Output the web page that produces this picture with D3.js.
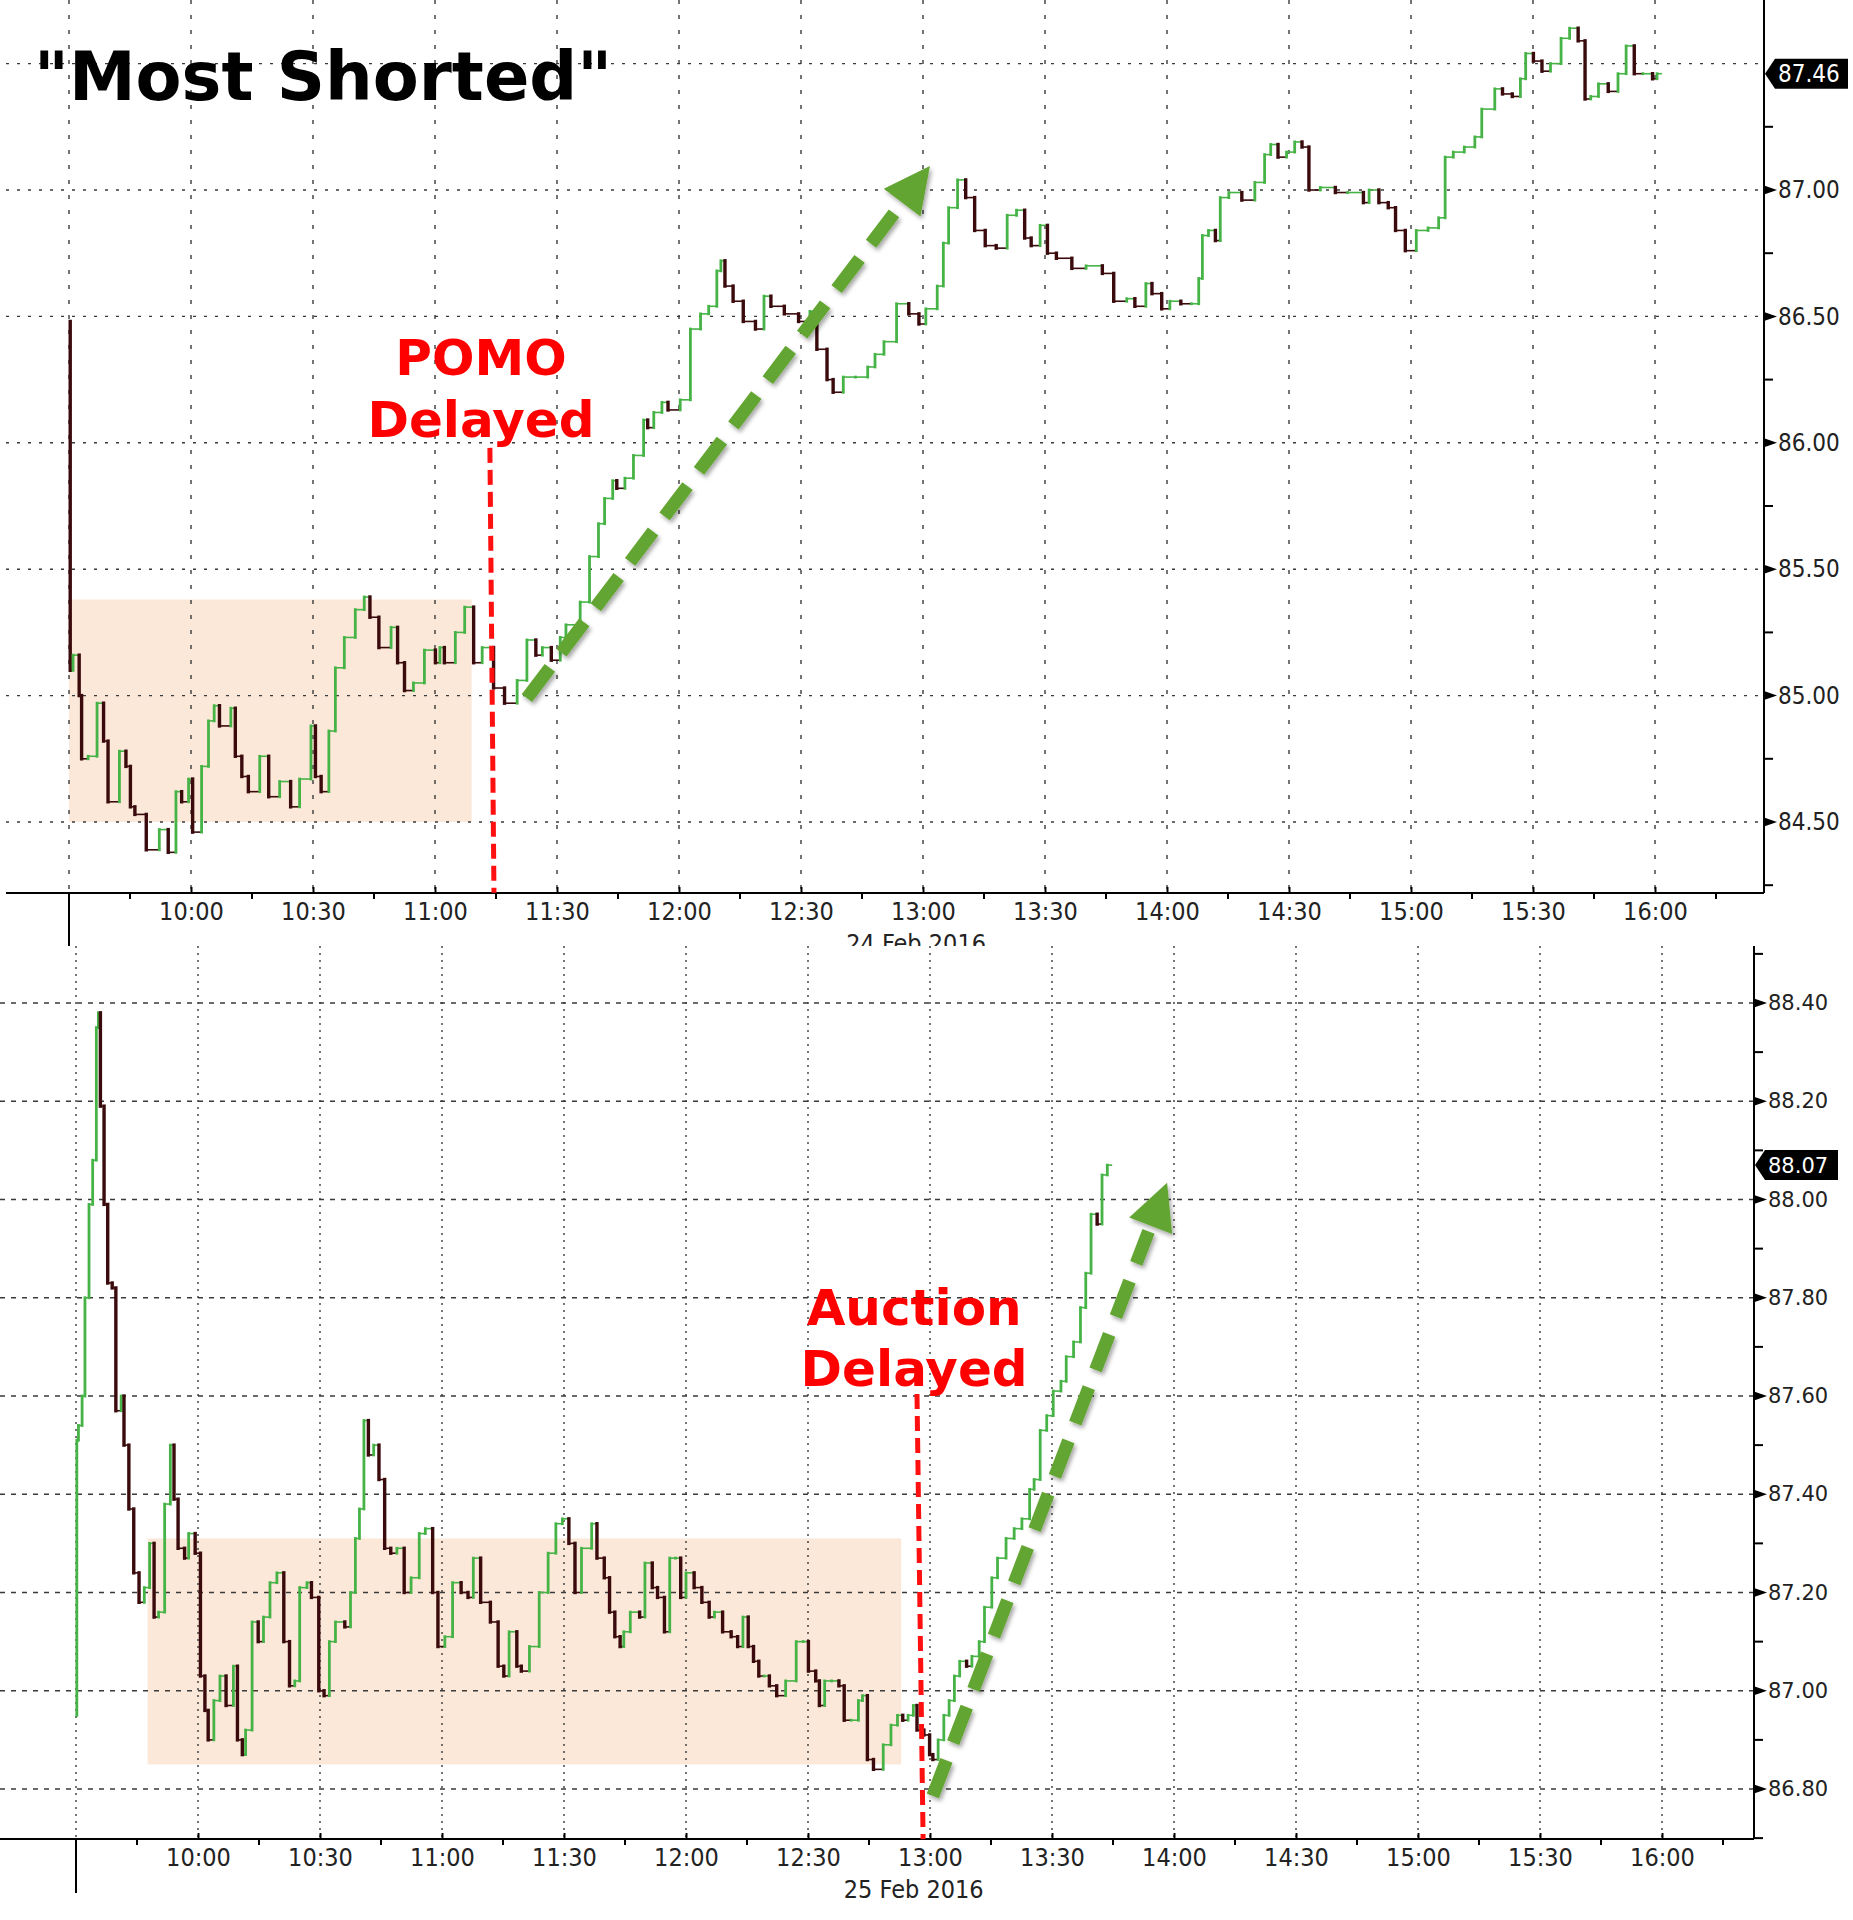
<!DOCTYPE html>
<html>
<head>
<meta charset="UTF-8">
<title>"Most Shorted"</title>
<style>
  body { margin: 0; background: #fff; }
  svg { display: block; }
  .cond { font-family: "DejaVu Sans Condensed", "Liberation Sans Narrow", "DejaVu Sans", sans-serif; font-stretch: condensed; }
  .wide { font-family: "DejaVu Sans", Verdana, sans-serif; }
</style>
</head>
<body>
<svg width="1853" height="1920"></svg>
<script src="https://d3js.org/d3.v7.min.js"></script>
<script>

    // ---- data: minutes after 9:30 and bar close prices ----

    // 24 Feb 2016
    var topMinutes = [
        0, 0.3, 1, 2.5, 3.1, 4.7, 6.9, 8.5, 9.6, 12.4,
        14, 15.1, 16.2, 19, 22.2, 24.4, 26.3, 27.7, 29.4, 30.4,
        32.6, 34.3, 35.7, 37, 39.8, 40.9, 42.5, 44.1, 46.9, 49.1,
        51.8, 54.5, 56.7, 59.5, 60.6, 62, 63.9, 65.5, 67.7, 70.4,
        72.6, 74, 76.2, 79.2, 80.8, 82.5, 84.7, 87.4, 90.1, 91.2,
        92.3, 95, 97.3, 99.5, 101.6, 104.4, 107.1, 110.2, 112.6, 114.8,
        116.4, 118.6, 120.8, 122.2, 125.7, 128, 130.2, 131.7, 133.7, 134.7,
        136.7, 138.8, 141.3, 142.3, 143.8, 145.8, 147.3, 150.3, 152.8, 155.3,
        157.3, 159.3, 160.3, 161.3, 163.3, 165.8, 168.8, 170.9, 172.6, 175.9,
        179.4, 182.2, 183.9, 186.4, 187.9, 190.4, 193.4, 196.4, 198.2, 200.4,
        203.5, 206.5, 209, 210.7, 213.5, 215, 216.3, 218.5, 220.5, 222.7,
        225.3, 228, 230.7, 233, 235, 236.6, 238.8, 240.6, 242.8, 246.6,
        250.1, 254.1, 256.9, 260.1, 262.1, 264.8, 266.3, 268.7, 270.7, 273.4,
        276, 277.8, 278.7, 280.2, 281.9, 283.1, 285.2, 288.4, 291.6, 294,
        295.5, 297.3, 299.4, 301.4, 303.2, 304.9, 307.7, 311.4, 314.4, 318.3,
        319.7, 322.1, 324.4, 326.2, 328.6, 331.3, 334.2, 336.8, 338.4, 340.4,
        343.1, 345.7, 347.4, 350.6, 352.5, 354.9, 356.9, 358.2, 360.1, 362.2,
        364.3, 366.9, 369, 371.1, 372.8, 374.2, 376.1, 378.5, 380.9, 382.9,
        384.9, 387, 389.4, 390.5
    ];
    var topClose = [
        86.48, 85.10, 85.16, 85.00, 84.75, 84.76, 84.97, 84.82, 84.58, 84.78,
        84.72, 84.56, 84.53, 84.39, 84.47, 84.38, 84.62, 84.58, 84.67, 84.46,
        84.72, 84.90, 84.96, 84.88, 84.95, 84.76, 84.68, 84.62, 84.76, 84.60,
        84.66, 84.56, 84.67, 84.88, 84.68, 84.62, 84.86, 85.11, 85.23, 85.34,
        85.39, 85.31, 85.19, 85.27, 85.13, 85.02, 85.05, 85.18, 85.13, 85.19,
        85.13, 85.25, 85.35, 85.13, 85.19, 85.03, 84.97, 85.06, 85.22, 85.16,
        85.19, 85.14, 85.23, 85.28, 85.37, 85.55, 85.68, 85.78, 85.85, 85.82,
        85.86, 85.95, 86.09, 86.06, 86.12, 86.16, 86.13, 86.17, 86.45, 86.51,
        86.54, 86.68, 86.72, 86.62, 86.56, 86.48, 86.45, 86.58, 86.54, 86.51,
        86.48, 86.52, 86.37, 86.25, 86.20, 86.26, 86.26, 86.30, 86.35, 86.40,
        86.55, 86.51, 86.47, 86.53, 86.62, 86.79, 86.93, 87.04, 86.97, 86.84,
        86.78, 86.77, 86.90, 86.92, 86.81, 86.78, 86.86, 86.75, 86.73, 86.69,
        86.70, 86.67, 86.56, 86.57, 86.54, 86.63, 86.59, 86.53, 86.56, 86.55,
        86.55, 86.65, 86.82, 86.84, 86.80, 86.97, 86.99, 86.96, 87.03, 87.14,
        87.18, 87.13, 87.15, 87.19, 87.17, 87.00, 87.01, 86.99, 86.99, 86.95,
        87.00, 86.95, 86.93, 86.84, 86.76, 86.84, 86.85, 86.89, 87.13, 87.15,
        87.17, 87.21, 87.32, 87.40, 87.38, 87.37, 87.44, 87.54, 87.51, 87.47,
        87.50, 87.60, 87.64, 87.59, 87.36, 87.37, 87.42, 87.39, 87.46, 87.57,
        87.46, 87.46, 87.44, 87.46
    ];

    // 25 Feb 2016
    var bottomMinutes = [
        0, 0.2, 0.6, 1.5, 2.2, 3.2, 4.1, 5, 5.5, 6,
        6.9, 7.8, 8.9, 9.8, 11.1, 11.8, 13, 14.2, 15.5, 16.8,
        18.1, 19.2, 20.3, 21.8, 23.2, 24.1, 25.1, 26.7, 27.7, 29.3,
        30.6, 31.7, 32.5, 33.9, 35.4, 36.9, 38.7, 39.7, 40.9, 41.7,
        43.3, 44.8, 46.1, 47.7, 49.4, 51.1, 52.5, 53.8, 55, 56.8,
        57.9, 59.7, 61, 62.3, 63.8, 66.1, 67.5, 68.7, 69.7, 70.8,
        71.9, 73.2, 74.5, 75.9, 77.4, 78.9, 80.7, 82.4, 84.4, 85.9,
        87.7, 89, 90.7, 92.6, 94.7, 96.4, 97.7, 99.5, 101.9, 103.8,
        105.2, 106.5, 108.4, 109.5, 111.5, 113.9, 116.1, 118, 119.6, 121.2,
        122.7, 124.3, 126.8, 128.1, 129.9, 131.2, 132.5, 133.8, 134.7, 136.3,
        138.6, 139.9, 141.7, 143, 144.7, 146, 147.4, 148.7, 150, 152,
        153.9, 155.7, 157, 159, 161.1, 162.7, 164, 165.3, 166.6, 167.9,
        169.2, 170.5, 172.3, 174.5, 177.1, 178.8, 180.1, 181.9, 182.8, 184.1,
        185.8, 187.6, 188.9, 190.6, 192.4, 193.4, 194.6, 196.1, 198.5, 200.4,
        202, 203.3, 204.6, 205.9, 206.8, 208.5, 209.9, 210.7, 212, 213.4,
        214.7, 216, 217.3, 219, 220.3, 222.1, 223.4, 225.2, 226.6, 228.7,
        230.7, 232.6, 234.5, 235.6, 237.1, 238.7, 240.3, 242.2, 243.5, 245.3,
        247, 248.3, 249.6, 251.1, 252.3, 253.6
    ];
    var bottomClose = [
        86.95, 87.51, 87.54, 87.60, 87.80, 87.99, 88.08, 88.35, 88.38, 88.19,
        87.99, 87.83, 87.82, 87.57, 87.60, 87.50, 87.37, 87.24, 87.18, 87.21,
        87.30, 87.15, 87.16, 87.38, 87.50, 87.39, 87.29, 87.27, 87.32, 87.28,
        87.03, 86.96, 86.90, 86.98, 87.03, 86.97, 87.05, 86.90, 86.87, 86.92,
        87.14, 87.10, 87.15, 87.22, 87.24, 87.10, 87.01, 87.02, 87.21, 87.22,
        87.19, 87.00, 86.99, 87.10, 87.14, 87.13, 87.20, 87.31, 87.37, 87.55,
        87.48, 87.50, 87.43, 87.29, 87.28, 87.29, 87.20, 87.23, 87.32, 87.33,
        87.20, 87.09, 87.11, 87.22, 87.20, 87.19, 87.27, 87.18, 87.14, 87.05,
        87.03, 87.12, 87.05, 87.04, 87.09, 87.20, 87.28, 87.34, 87.35, 87.30,
        87.20, 87.29, 87.34, 87.27, 87.23, 87.16, 87.11, 87.09, 87.12, 87.16,
        87.15, 87.26, 87.21, 87.19, 87.12, 87.27, 87.27, 87.19, 87.24, 87.21,
        87.18, 87.15, 87.16, 87.12, 87.11, 87.09, 87.15, 87.09, 87.06, 87.03,
        87.03, 87.01, 86.99, 87.02, 87.10, 87.10, 87.04, 87.02, 86.97, 87.02,
        87.02, 87.01, 86.94, 86.94, 86.98, 86.99, 86.86, 86.84, 86.89, 86.93,
        86.95, 86.94, 86.95, 86.97, 86.92, 86.91, 86.87, 86.86, 86.90, 86.95,
        86.98, 87.03, 87.06, 87.05, 87.07, 87.10, 87.17, 87.23, 87.27, 87.31,
        87.33, 87.35, 87.41, 87.43, 87.53, 87.56, 87.61, 87.63, 87.68, 87.71,
        87.78, 87.85, 87.97, 87.95, 88.05, 88.07
    ];

    var timeLabels = ["10:00", "10:30", "11:00", "11:30", "12:00", "12:30", "13:00",
                      "13:30", "14:00", "14:30", "15:00", "15:30", "16:00"];
    var topYTicks = [84.5, 85.0, 85.5, 86.0, 86.5, 87.0];
    var topYGrid = [84.5, 85.0, 85.5, 86.0, 86.5, 87.0, 87.5];
    var topYMinor = [84.25, 84.75, 85.25, 85.75, 86.25, 86.75, 87.25];
    var bottomYTicks = [86.8, 87.0, 87.2, 87.4, 87.6, 87.8, 88.0, 88.2, 88.4];
    var bottomYMinor = [86.7, 86.9, 87.1, 87.3, 87.5, 87.7, 87.9, 88.1, 88.3, 88.5];

    var topLast = 87.46, bottomLast = 88.07;
    // shaded ranges: [from minute, to minute, low, high]
    var topRange = [0, 99, 84.5, 85.38];
    var bottomRange = [17.6, 202.9, 86.85, 87.31];

    var labelMinutes = timeLabels.map(function(d, i) { return (i + 1) * 30; });
    var gridMinutes = [0].concat(labelMinutes);
    var minorMinutes = gridMinutes.map(function(d) { return d + 15; });

    var svg = d3.select("svg");
    svg.append("rect").attr("width", 1853).attr("height", 1920).attr("fill", "#fff");

    var defs = svg.append("defs");
    defs.append("filter").attr("id", "shadow")
        .attr("x", "-20%").attr("y", "-20%").attr("width", "140%").attr("height", "140%")
        .append("feDropShadow")
        .attr("dx", 2).attr("dy", 3).attr("stdDeviation", 2)
        .attr("flood-color", "#000").attr("flood-opacity", 0.35);

    var up = "#46b346", down = "#3a0a0c";

    var topPanel = {
        x: d3.scaleLinear().domain([0, 390]).range([69, 1655]),
        y: d3.scaleLinear().domain([84.5, 87.0]).range([822, 190]),
        left: 6, right: 1764, top: 0, bottom: 893, bgBottom: 946,
        minutes: topMinutes, close: topClose,
        yTicks: topYTicks, yGrid: topYGrid, yMinor: topYMinor,
        range: topRange, last: topLast,
        hDash: "3,8", vDash: "4,11",
        yLabelClass: "cond", yFont: 24, date: "24 Feb 2016", dateAt: 208.3
    };
    var bottomPanel = {
        x: d3.scaleLinear().domain([0, 390]).range([76, 1662]),
        y: d3.scaleLinear().domain([86.8, 88.4]).range([1789, 1003]),
        left: 0, right: 1754, top: 946, bottom: 1839, bgBottom: 1920,
        minutes: bottomMinutes, close: bottomClose,
        yTicks: bottomYTicks, yGrid: bottomYTicks, yMinor: bottomYMinor,
        range: bottomRange, last: bottomLast,
        hDash: "5,6", vDash: "2,5",
        yLabelClass: "wide", yFont: 21, date: "25 Feb 2016", dateAt: 206
    };

    function drawPanel(p) {
        var g = svg.append("g");
        g.append("rect").attr("x", 0).attr("y", p.top)
            .attr("width", 1853).attr("height", p.bgBottom - p.top).attr("fill", "#fff");

        g.append("rect")
            .attr("x", p.x(p.range[0])).attr("width", p.x(p.range[1]) - p.x(p.range[0]))
            .attr("y", p.y(p.range[3])).attr("height", p.y(p.range[2]) - p.y(p.range[3]))
            .attr("fill", "#fce8d8");

        g.append("g").selectAll("line").data(p.yGrid).join("line")
            .attr("x1", p.left).attr("x2", p.right)
            .attr("y1", function(d) { return p.y(d); }).attr("y2", function(d) { return p.y(d); })
            .attr("stroke", "#3a3a3a").attr("stroke-width", 1.4).attr("stroke-dasharray", p.hDash);

        g.append("g").selectAll("line").data(gridMinutes).join("line")
            .attr("x1", function(d) { return p.x(d); }).attr("x2", function(d) { return p.x(d); })
            .attr("y1", p.top).attr("y2", p.bottom)
            .attr("stroke", "#3a3a3a").attr("stroke-width", 1.4).attr("stroke-dasharray", p.vDash);

        // bars: vertical move from previous close, then a step to the next bar
        var bars = p.minutes.slice(1).map(function(m, i) {
            var nxt = i + 2 < p.minutes.length ? p.minutes[i + 2] : m + 1;
            return { m: m, next: nxt, from: p.close[i], to: p.close[i + 1] };
        });
        var bg = g.append("g").attr("stroke-linecap", "square");
        bg.selectAll("line.h").data(bars).join("line").attr("class", "h")
            .attr("x1", function(d) { return p.x(d.m); }).attr("x2", function(d) { return p.x(d.next); })
            .attr("y1", function(d) { return p.y(d.to); }).attr("y2", function(d) { return p.y(d.to); })
            .attr("stroke", function(d) { return d.to >= d.from ? up : down; })
            .attr("stroke-width", 1.6);
        bg.selectAll("line.v").data(bars).join("line").attr("class", "v")
            .attr("x1", function(d) { return p.x(d.m); }).attr("x2", function(d) { return p.x(d.m); })
            .attr("y1", function(d) { return p.y(d.from); }).attr("y2", function(d) { return p.y(d.to); })
            .attr("stroke", function(d) { return d.to >= d.from ? up : down; })
            .attr("stroke-width", function(d) { return d.to >= d.from ? 2.8 : 3.4; });

        // x axis
        var xa = g.append("g").attr("transform", "translate(0," + p.bottom + ")")
            .call(d3.axisBottom(p.x).tickValues(labelMinutes)
                .tickSizeInner(-6).tickSizeOuter(0).tickPadding(9)
                .tickFormat(function(d, i) { return timeLabels[i]; }));
        xa.select(".domain").remove();
        xa.selectAll("line").attr("stroke", "#000").attr("stroke-width", 2);
        xa.selectAll("text").attr("class", "cond").attr("font-size", 25).attr("fill", "#222");
        g.append("g").selectAll("line").data(minorMinutes).join("line")
            .attr("x1", function(d) { return p.x(d); }).attr("x2", function(d) { return p.x(d); })
            .attr("y1", p.bottom).attr("y2", p.bottom + 6)
            .attr("stroke", "#000").attr("stroke-width", 2);
        g.append("line").attr("x1", p.left).attr("x2", p.right)
            .attr("y1", p.bottom).attr("y2", p.bottom).attr("stroke", "#000").attr("stroke-width", 2);
        g.append("line").attr("x1", p.x(0)).attr("x2", p.x(0))
            .attr("y1", p.bottom).attr("y2", p.bottom + 54).attr("stroke", "#000").attr("stroke-width", 2);
        g.append("text").attr("class", "cond").attr("font-size", 25).attr("fill", "#222")
            .attr("text-anchor", "middle")
            .attr("x", p.x(p.dateAt)).attr("y", p.bottom + 59)
            .text(p.date);

        // right axis
        g.append("line").attr("x1", p.right).attr("x2", p.right)
            .attr("y1", p.top).attr("y2", p.bottom).attr("stroke", "#000").attr("stroke-width", 2);
        var ya = g.append("g").attr("transform", "translate(" + p.right + ",0)")
            .call(d3.axisRight(p.y).tickValues(p.yTicks).tickSize(0).tickPadding(14)
                .tickFormat(d3.format(".2f")));
        ya.select(".domain").remove();
        ya.selectAll("text").attr("class", p.yLabelClass).attr("font-size", p.yFont).attr("fill", "#222");
        g.append("g").selectAll("path").data(p.yTicks).join("path")
            .attr("d", function(d) {
                var y = p.y(d);
                return "M" + p.right + "," + (y - 4.5) + "L" + (p.right + 13) + "," + y +
                       "L" + p.right + "," + (y + 4.5) + "Z";
            })
            .attr("fill", "#000");
        g.append("g").selectAll("line").data(p.yMinor).join("line")
            .attr("x1", p.right).attr("x2", p.right + 9)
            .attr("y1", function(d) { return p.y(d); }).attr("y2", function(d) { return p.y(d); })
            .attr("stroke", "#000").attr("stroke-width", 2);

        // last price tag
        var ly = p.y(p.last);
        g.append("path")
            .attr("d", "M" + (p.right + 1) + "," + ly + "L" + (p.right + 11) + "," + (ly - 15) +
                       "L" + (p.right + 84) + "," + (ly - 15) + "L" + (p.right + 84) + "," + (ly + 15) +
                       "L" + (p.right + 11) + "," + (ly + 15) + "Z")
            .attr("fill", "#000");
        g.append("text").attr("class", p.yLabelClass).attr("font-size", p.yFont)
            .attr("fill", "#fff").attr("x", p.right + 14).attr("y", ly).attr("dy", "0.36em")
            .text(d3.format(".2f")(p.last));
        return g;
    }

    function drawArrow(g, x0, y0, x1, y1) {
        var dx = x1 - x0, dy = y1 - y0, len = Math.hypot(dx, dy);
        var ux = dx / len, uy = dy / len;
        var head = 46, half = 23;
        var bx = x1 - ux * head, by = y1 - uy * head;
        var a = g.append("g").attr("filter", "url(#shadow)");
        a.append("line")
            .attr("x1", x0).attr("y1", y0).attr("x2", bx - ux * 6).attr("y2", by - uy * 6)
            .attr("stroke", "#63a531").attr("stroke-width", 13).attr("stroke-dasharray", "38,19");
        a.append("path")
            .attr("d", "M" + x1 + "," + y1 +
                       "L" + (bx - uy * half) + "," + (by + ux * half) +
                       "L" + (bx + uy * half) + "," + (by - ux * half) + "Z")
            .attr("fill", "#63a531");
    }

    function drawNote(g, p, t0, v0, t1, v1, lines, at, baselines) {
        g.append("line")
            .attr("x1", p.x(t0)).attr("y1", p.y(v0)).attr("x2", p.x(t1)).attr("y2", p.y(v1))
            .attr("stroke", "#ff1010").attr("stroke-width", 5).attr("stroke-dasharray", "15,7");
        g.selectAll("text.note").data(lines).join("text").attr("class", "note wide")
            .attr("x", p.x(at)).attr("y", function(d, i) { return p.y(baselines[i]); })
            .attr("text-anchor", "middle").attr("font-size", 50).attr("font-weight", "bold")
            .attr("fill", "#ff0000")
            .text(function(d) { return d; });
    }

    var gt = drawPanel(topPanel);
    drawNote(gt, topPanel, 103.5, 85.98, 104.5, 84.22, ["POMO", "Delayed"], 101.3, [86.268, 86.023]);
    drawArrow(gt, topPanel.x(112.6), topPanel.y(84.99), topPanel.x(211.7), topPanel.y(87.095));

    gt.append("text").attr("class", "wide")
        .attr("x", 34).attr("y", 100)
        .attr("font-size", 67).attr("font-weight", "bold").attr("fill", "#000")
        .text('"Most Shorted"');

    var gb = drawPanel(bottomPanel);
    drawNote(gb, bottomPanel, 206.8, 87.604, 208.3, 86.698, ["Auction", "Delayed"], 206.1, [87.744, 87.621]);
    drawArrow(gb, bottomPanel.x(210.7), bottomPanel.y(86.786), bottomPanel.x(268.3), bottomPanel.y(88.034));

</script>
</body>
</html>
